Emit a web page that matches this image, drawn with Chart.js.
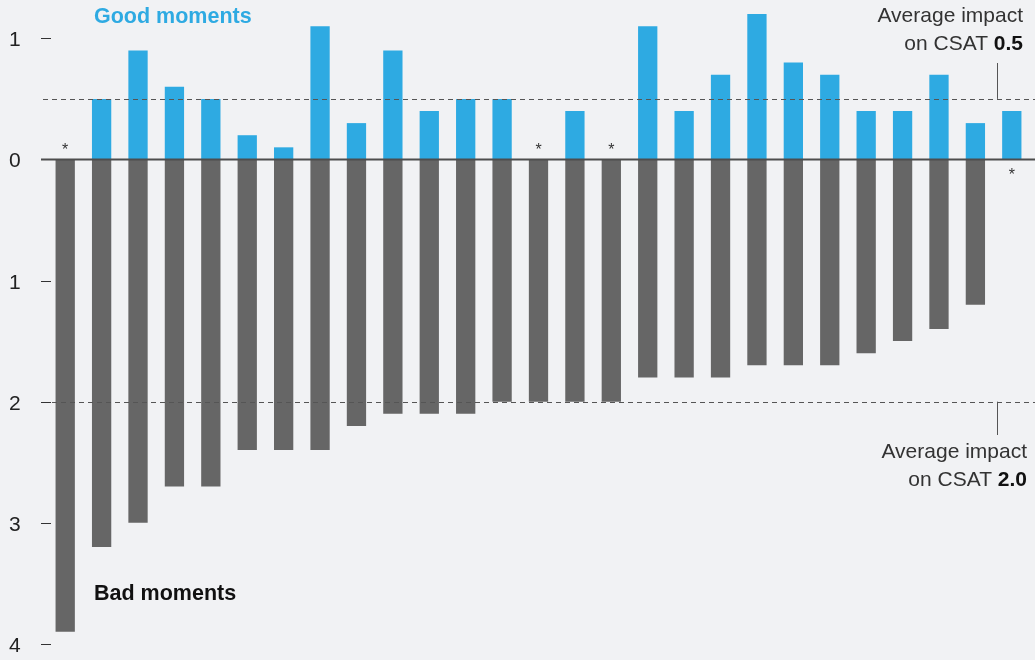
<!DOCTYPE html>
<html>
<head>
<meta charset="utf-8">
<script src="https://cdn.jsdelivr.net/npm/chart.js@4/dist/chart.umd.min.js"></script>
<style>
  html, body { margin: 0; padding: 0; background: #f1f2f4; }
  #wrap { width: 1035px; height: 660px; position: relative; }
</style>
</head>
<body>
<div id="wrap"><canvas id="grafico"></canvas></div>
<script>
// dados
const categorias = ["1","2","3","4","5","6","7","8","9","10","11","12","13","14","15","16","17","18","19","20","21","22","23","24","25","26","27"]
const bonsMomentos = [0, 0.5, 0.9, 0.6, 0.5, 0.2, 0.1, 1.1, 0.3, 0.9, 0.4, 0.5, 0.5, 0, 0.4, 0, 1.1, 0.4, 0.7, 1.2, 0.8, 0.7, 0.4, 0.4, 0.7, 0.3, 0.4]
const mausMomentos = [3.9, 3.2, 3.0, 2.7, 2.7, 2.4, 2.4, 2.4, 2.2, 2.1, 2.1, 2.1, 2.0, 2.0, 2.0, 2.0, 1.8, 1.8, 1.8, 1.7, 1.7, 1.7, 1.6, 1.5, 1.4, 1.2, 0]
const ticksY = [1, 0, -1, -2, -3, -4]
const mediaBons = 0.5
const mediaMaus = 2.0

const AZUL = '#2eaae2'
const CINZA = '#666666'
const fonte = '"Liberation Sans", Arial, Helvetica, sans-serif'

// desenha eixo, linhas de media, asteriscos e textos
const extras = {
    id: 'extras',
    afterDatasetsDraw(chart) {
        const ctx = chart.ctx
        const y = chart.scales.y
        const x = chart.scales.x
        const w = chart.width
        ctx.save()

        // linhas tracejadas de media
        ctx.strokeStyle = '#555'
        ctx.lineWidth = 1
        ctx.setLineDash([5, 4])
        ;[mediaBons, -mediaMaus].forEach(v => {
            const py = Math.round(y.getPixelForValue(v)) + 0.5
            ctx.beginPath()
            ctx.moveTo(43, py)
            ctx.lineTo(w, py)
            ctx.stroke()
        })
        ctx.setLineDash([])

        // linha do zero
        const y0 = y.getPixelForValue(0)
        ctx.strokeStyle = '#4d4d4d'
        ctx.lineWidth = 2
        ctx.beginPath()
        ctx.moveTo(41, y0)
        ctx.lineTo(w, y0)
        ctx.stroke()

        // marcas e rotulos do eixo y
        ctx.lineWidth = 1
        ctx.strokeStyle = '#333'
        ctx.fillStyle = '#222'
        ctx.font = '21px ' + fonte
        ctx.textBaseline = 'middle'
        ctx.textAlign = 'left'
        ticksY.forEach(v => {
            const py = Math.round(y.getPixelForValue(v)) + 0.5
            if (v !== 0) {
                ctx.beginPath()
                ctx.moveTo(41, py)
                ctx.lineTo(51, py)
                ctx.stroke()
            }
            ctx.fillText(String(Math.abs(v)), 9, py + 2)
        })

        // asteriscos onde o valor e zero
        ctx.fillStyle = '#333'
        ctx.font = '16px ' + fonte
        ctx.textAlign = 'center'
        categorias.forEach((c, i) => {
            const px = x.getPixelForValue(i)
            if (bonsMomentos[i] === 0) ctx.fillText('*', px, y0 - 9)
            if (mausMomentos[i] === 0) ctx.fillText('*', px, y0 + 16)
        })

        // titulos
        ctx.textAlign = 'left'
        ctx.textBaseline = 'alphabetic'
        ctx.font = 'bold 21.5px ' + fonte
        ctx.fillStyle = AZUL
        ctx.fillText('Good moments', 94, 23)
        ctx.fillStyle = '#111'
        ctx.fillText('Bad moments', 94, 600)

        // anotacoes das medias
        function anotacao(xr, yb, valor) {
            ctx.fillStyle = '#333'
            ctx.textAlign = 'right'
            ctx.font = '21px ' + fonte
            ctx.fillText('Average impact', xr, yb)
            ctx.font = 'bold 21px ' + fonte
            const tb = ctx.measureText(valor).width
            ctx.fillStyle = '#111'
            ctx.fillText(valor, xr, yb + 28)
            ctx.font = '21px ' + fonte
            ctx.fillStyle = '#333'
            ctx.fillText('on CSAT ', xr - tb, yb + 28)
        }
        anotacao(1023, 22, mediaBons.toFixed(1))
        anotacao(1027, 458, mediaMaus.toFixed(1))

        // linhas guia
        ctx.strokeStyle = '#555'
        ctx.lineWidth = 1
        const yb = y.getPixelForValue(mediaBons)
        const ym = y.getPixelForValue(-mediaMaus)
        ctx.beginPath()
        ctx.moveTo(997.5, 63)
        ctx.lineTo(997.5, yb)
        ctx.moveTo(997.5, ym)
        ctx.lineTo(997.5, 435)
        ctx.stroke()

        ctx.restore()
    }
}

const grafico = document.getElementById("grafico")

new Chart(grafico, {
    type: 'bar',
    data: {
        labels: categorias,
        datasets: [
            {
                label: "Good moments",
                data: bonsMomentos,
                backgroundColor: AZUL,
                borderWidth: 0,
                categoryPercentage: 1,
                barPercentage: 0.53
            },
            {
                label: "Bad moments",
                data: mausMomentos.map(v => -v),
                backgroundColor: CINZA,
                borderWidth: 0,
                categoryPercentage: 1,
                barPercentage: 0.53
            }
        ]
    },
    options: {
        responsive: true,
        maintainAspectRatio: false,
        animation: false,
        layout: {
            padding: { left: 47, right: 5, top: 2, bottom: 4 }
        },
        plugins: {
            legend: { display: false },
            tooltip: { enabled: false }
        },
        scales: {
            x: {
                display: false,
                stacked: true
            },
            y: {
                display: false,
                stacked: true,
                min: -4.1,
                max: 1.3
            }
        }
    },
    plugins: [extras]
});
</script>
</body>
</html>
